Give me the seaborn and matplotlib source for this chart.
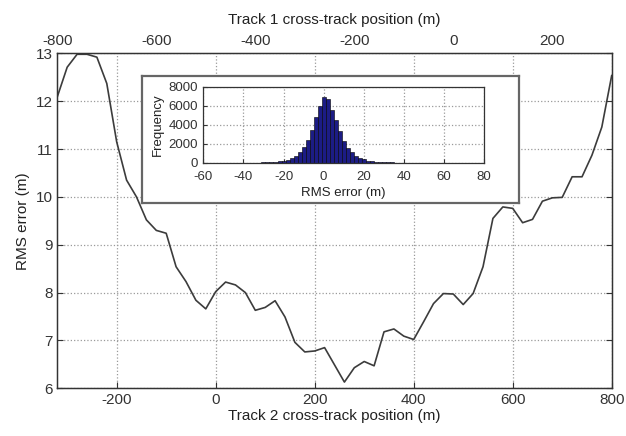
"""
RMS error vs cross-track position, with an inset histogram of errors.
"""

import numpy as np
import matplotlib
matplotlib.use("Agg")
import matplotlib.pyplot as plt
import seaborn as sns


# =====================================================================
# DATA
# =====================================================================

track2_pos = [-320, -300, -280, -260, -240, -220, -200, -180, -160, -140,
              -120, -100, -80, -60, -40, -20, 0, 20, 40, 60,
              80, 100, 120, 140, 160, 180, 200, 220, 240, 260,
              280, 300, 320, 340, 360, 380, 400, 420, 440, 460,
              480, 500, 520, 540, 560, 580, 600, 620, 640, 660,
              680, 700, 720, 740, 760, 780, 800]

rms_error = [12.09, 12.71, 12.98, 12.98, 12.92, 12.37, 11.15, 10.35, 10.00, 9.52,
             9.30, 9.24, 8.54, 8.23, 7.84, 7.66, 8.02, 8.22, 8.16, 8.00,
             7.63, 7.69, 7.83, 7.49, 6.96, 6.76, 6.78, 6.85, 6.49, 6.13,
             6.43, 6.56, 6.47, 7.18, 7.24, 7.09, 7.02, 7.39, 7.77, 7.98,
             7.97, 7.75, 7.98, 8.54, 9.55, 9.79, 9.76, 9.46, 9.53, 9.91,
             9.98, 9.99, 10.42, 10.42, 10.87, 11.46, 12.54]

bottom_ticks = [-200, 0, 200, 400, 600, 800]
top_ticks = [-800, -600, -400, -200, 0, 200]
y_ticks = [6, 7, 8, 9, 10, 11, 12, 13]

# histogram of RMS error (bin centres, width 2 m)
err_centres = [-40, -38, -36, -34, -32, -30, -28, -26, -24, -22,
               -20, -18, -16, -14, -12, -10, -8, -6, -4, -2,
               0, 2, 4, 6, 8, 10, 12, 14, 16, 18,
               20, 22, 24, 26, 28, 30, 32, 34, 36, 38,
               40, 42, 44, 46, 48]
err_counts = [5, 8, 10, 15, 20, 30, 45, 65, 90, 130,
              200, 320, 500, 750, 1100, 1700, 2400, 3400, 4800, 6000,
              6950, 6750, 5600, 4500, 3300, 2300, 1600, 1100, 750, 500,
              350, 230, 150, 100, 70, 50, 35, 25, 18, 12,
              8, 5, 3, 2, 1]

hist_xticks = [-60, -40, -20, 0, 20, 40, 60, 80]
hist_yticks = [0, 2000, 4000, 6000, 8000]


# =====================================================================
# STYLE
# =====================================================================

sns.set_style("ticks")
plt.rcParams["font.family"] = ["Liberation Sans", "DejaVu Sans"]
plt.rcParams["font.size"] = 11
plt.rcParams["axes.unicode_minus"] = False
plt.rcParams["axes.edgecolor"] = "#333333"
plt.rcParams["xtick.color"] = "#333333"
plt.rcParams["ytick.color"] = "#333333"
plt.rcParams["text.color"] = "#222222"
plt.rcParams["axes.labelcolor"] = "#222222"

GRID = dict(color="#9a9a9a", linestyle=":", linewidth=0.9)


# =====================================================================
# MAIN AXES
# =====================================================================

fig = plt.figure(figsize=(6.26, 4.36), dpi=100)
ax = fig.add_axes([0.0915, 0.1094, 0.8857, 0.7683])

sns.lineplot(x=track2_pos, y=rms_error, ax=ax, color="#3c3c3c", linewidth=1.2)

ax.set_xlim(-320, 800)
ax.set_ylim(6, 13)
ax.set_xticks(bottom_ticks)
ax.set_yticks(y_ticks)
ax.grid(True, **GRID)
ax.tick_params(direction="in", top=True, right=True, length=4, labelsize=11)
ax.set_xlabel("Track 2 cross-track position (m)", fontsize=11, labelpad=1)
ax.set_ylabel("RMS error (m)", fontsize=11, labelpad=4)
for s in ax.spines.values():
    s.set_linewidth(1.0)

ax_top = ax.twiny()
ax_top.set_xlim(-800, 320)
ax_top.set_xticks(top_ticks)
ax_top.tick_params(length=0, labelsize=11, pad=4)
ax_top.set_xlabel("Track 1 cross-track position (m)", fontsize=11, labelpad=7)


# =====================================================================
# INSET
# =====================================================================

frame = fig.add_axes([0.2264, 0.5351, 0.6032, 0.2906])
frame.set_facecolor("white")
frame.set_xticks([]); frame.set_yticks([])
for s in frame.spines.values():
    s.set_color("#666666"); s.set_linewidth(1.6)

ins = fig.add_axes([0.3248, 0.6268, 0.4484, 0.1743])
edges = [c - 1 for c in err_centres] + [err_centres[-1] + 1]
sns.histplot(x=err_centres, weights=err_counts, bins=edges, ax=ins,
             color="#1c1c85", edgecolor="black", linewidth=0.4, alpha=1)
ins.set_xlim(-60, 80)
ins.set_ylim(0, 8000)
ins.set_xticks(hist_xticks)
ins.set_yticks(hist_yticks)
ins.grid(True, **GRID)
ins.set_axisbelow(True)
ins.tick_params(axis="x", direction="in", length=3, labelsize=9.5, pad=6)
ins.tick_params(axis="y", direction="in", length=3, labelsize=9.5, pad=4)
ins.set_xlabel("RMS error (m)", fontsize=9.5, labelpad=3)
ins.set_ylabel("Frequency", fontsize=9.5, labelpad=3)
for s in ins.spines.values():
    s.set_linewidth(0.9)

fig.savefig("out.png", dpi=100)
